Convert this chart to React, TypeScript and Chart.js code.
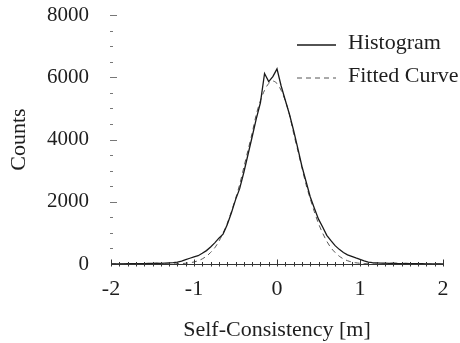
import React, { useEffect, useRef } from "react";
import { Chart, registerables } from "chart.js";

Chart.register(...registerables);

// Bin centres of the self-consistency histogram [m]
const BIN_X = [
  -2.0, -1.95, -1.9, -1.85, -1.8, -1.75, -1.7, -1.65, -1.6, -1.55,
  -1.5, -1.45, -1.4, -1.35, -1.3, -1.25, -1.2, -1.15, -1.1, -1.05,
  -1.0, -0.95, -0.9, -0.85, -0.8, -0.75, -0.7, -0.65, -0.6, -0.55,
  -0.5, -0.45, -0.4, -0.35, -0.3, -0.25, -0.2, -0.15, -0.1, -0.05,
  0.0,
  0.05, 0.1, 0.15, 0.2, 0.25, 0.3, 0.35, 0.4, 0.45, 0.5,
  0.55, 0.6, 0.65, 0.7, 0.75, 0.8, 0.85, 0.9, 0.95, 1.0,
  1.05, 1.1, 1.15, 1.2, 1.25, 1.3, 1.35, 1.4, 1.45, 1.5,
  1.55, 1.6, 1.65, 1.7, 1.75, 1.8, 1.85, 1.9, 1.95, 2.0,
];

// Histogram counts
const HISTOGRAM = [
  0, 3, 5, 4, 8, 10, 8, 14, 12, 18,
  20, 25, 22, 30, 38, 45, 62, 95, 140, 185,
  230, 265, 345, 430, 545, 680, 830, 960, 1260, 1640,
  2060, 2420, 2940, 3510, 4080, 4660, 5180, 6120, 5860, 6020,
  6270,
  5720, 5260, 4810, 4290, 3720, 3140, 2650, 2160, 1790, 1440,
  1190, 920, 750, 590, 470, 370, 295, 245, 195, 150,
  100, 62, 45, 38, 30, 26, 22, 24, 18, 15,
  16, 12, 10, 8, 9, 6, 5, 4, 3, 0,
];

// Fitted curve
const FITTED = [
  0, 0, 0, 0, 0, 0, 0, 0, 0, 0,
  0, 0, 0, 0, 2, 4, 8, 14, 24, 40,
  65, 105, 165, 250, 370, 520, 730, 990, 1300, 1680,
  2100, 2550, 3100, 3650, 4200, 4800, 5250, 5580, 5800, 5880,
  5800,
  5580, 5250, 4800, 4200, 3650, 3100, 2550, 2100, 1680, 1300,
  990, 730, 520, 370, 250, 165, 105, 65, 40, 24,
  14, 8, 4, 2, 0, 0, 0, 0, 0, 0,
  0, 0, 0, 0, 0, 0, 0, 0, 0, 0,
];

const SERIES_NAMES = ["Histogram", "Fitted Curve"];
const X_MIN = -2;
const X_MAX = 2;
const X_MAJOR = 1;
const X_MINOR = 0.1;
const Y_MIN = 0;
const Y_MAX = 8000;
const Y_MAJOR = 2000;
const Y_MINOR = 500;
const X_TITLE = "Self-Consistency [m]";
const Y_TITLE = "Counts";

const FONT = "'Liberation Serif', 'Times New Roman', serif";
const INK = "#1e1e1e";

const axisPlugin = {
  id: "paperAxes",
  afterDatasetsDraw(chart: any) {
    const { ctx, chartArea, scales } = chart;
    const xs = scales.x;
    const ys = scales.y;
    ctx.save();
    ctx.strokeStyle = "#333";
    ctx.lineWidth = 1;
    // x axis line
    const by = Math.round(chartArea.bottom) + 0.5;
    ctx.beginPath();
    ctx.moveTo(xs.getPixelForValue(X_MIN), by);
    ctx.lineTo(xs.getPixelForValue(X_MAX), by);
    ctx.stroke();
    // x ticks
    const nx = Math.round((X_MAX - X_MIN) / X_MINOR);
    for (let i = 0; i <= nx; i++) {
      const v = X_MIN + i * X_MINOR;
      const px = Math.round(xs.getPixelForValue(v)) + 0.5;
      const major = Math.abs(v / X_MAJOR - Math.round(v / X_MAJOR)) < 1e-6;
      ctx.beginPath();
      ctx.moveTo(px, by - (major ? 5 : 2.5));
      ctx.lineTo(px, by + 2);
      ctx.stroke();
    }
    // y ticks (no axis line)
    const lx = Math.round(chartArea.left);
    const ny = Math.round((Y_MAX - Y_MIN) / Y_MINOR);
    for (let i = 0; i < ny; i++) {
      const v = Y_MAX - i * Y_MINOR;
      const py = Math.round(ys.getPixelForValue(v)) + 0.5;
      const major = v % Y_MAJOR === 0;
      ctx.strokeStyle = "#777";
      ctx.beginPath();
      ctx.moveTo(lx - 1, py);
      ctx.lineTo(lx + (major ? 6 : 2), py);
      ctx.stroke();
    }
    ctx.restore();
  },
  afterDraw(chart: any) {
    const { ctx } = chart;
    const ds = chart.data.datasets;
    ctx.save();
    ctx.font = `22px ${FONT}`;
    ctx.textBaseline = "middle";
    ctx.textAlign = "left";
    const rows = [43, 76];
    ds.forEach((d: any, i: number) => {
      const y = rows[i];
      ctx.strokeStyle = d.borderColor;
      ctx.lineWidth = d.borderWidth;
      ctx.setLineDash(d.borderDash || []);
      ctx.beginPath();
      ctx.moveTo(297, y + 2);
      ctx.lineTo(336, y + 2);
      ctx.stroke();
      ctx.setLineDash([]);
      ctx.fillStyle = INK;
      ctx.fillText(d.label, 348, y);
    });
    ctx.restore();
  },
};

export default function App() {
  const ref = useRef<HTMLCanvasElement | null>(null);

  useEffect(() => {
    if (!ref.current) return;
    const hist = BIN_X.map((x, i) => ({ x, y: HISTOGRAM[i] }));
    const fit = BIN_X.map((x, i) => ({ x, y: FITTED[i] }));
    const chart = new Chart(ref.current, {
      type: "line",
      data: {
        datasets: [
          {
            label: SERIES_NAMES[0],
            data: hist,
            borderColor: "#1a1a1a",
            borderWidth: 1.3,
            pointRadius: 0,
            tension: 0,
            fill: false,
          },
          {
            label: SERIES_NAMES[1],
            data: fit,
            borderColor: "#555",
            borderWidth: 1,
            borderDash: [5, 4],
            pointRadius: 0,
            tension: 0.3,
            fill: false,
          },
        ],
      },
      options: {
        animation: false,
        responsive: false,
        maintainAspectRatio: false,
        layout: { padding: { top: 15, right: 17, bottom: 0, left: 0 } },
        plugins: {
          legend: { display: false },
          tooltip: { enabled: false },
        },
        scales: {
          x: {
            type: "linear",
            min: X_MIN,
            max: X_MAX,
            grid: { display: false, drawTicks: false },
            border: { display: false },
            ticks: {
              stepSize: X_MAJOR,
              padding: 12,
              color: INK,
              font: { family: FONT, size: 22 },
              maxRotation: 0,
              callback: (v: any) => String(v),
            },
            title: {
              display: true,
              text: X_TITLE,
              color: INK,
              font: { family: FONT, size: 22 },
              padding: { top: 0, bottom: 0 },
            },
            afterFit: (s: any) => {
              s.height = 79;
              s.paddingLeft = 0;
              s.paddingRight = 0;
            },
          },
          y: {
            type: "linear",
            min: Y_MIN,
            max: Y_MAX,
            grid: { display: false, drawTicks: false },
            border: { display: false },
            ticks: {
              stepSize: Y_MAJOR,
              padding: 22,
              color: INK,
              font: { family: FONT, size: 21 },
              callback: (v: any) => String(v),
            },
            title: {
              display: true,
              text: Y_TITLE,
              color: INK,
              font: { family: FONT, size: 22 },
              padding: { top: 6, bottom: 0 },
            },
            afterFit: (s: any) => {
              s.width = 111;
              s.paddingTop = 0;
              s.paddingBottom = 0;
            },
          },
        },
      },
      plugins: [axisPlugin],
    });
    return () => chart.destroy();
  }, []);

  return (
    <div style={{ position: "absolute", left: 0, top: 0, width: 460, height: 343, background: "#fff" }}>
      <canvas ref={ref} width={460} height={343} style={{ width: 460, height: 343, display: "block" }} />
    </div>
  );
}
